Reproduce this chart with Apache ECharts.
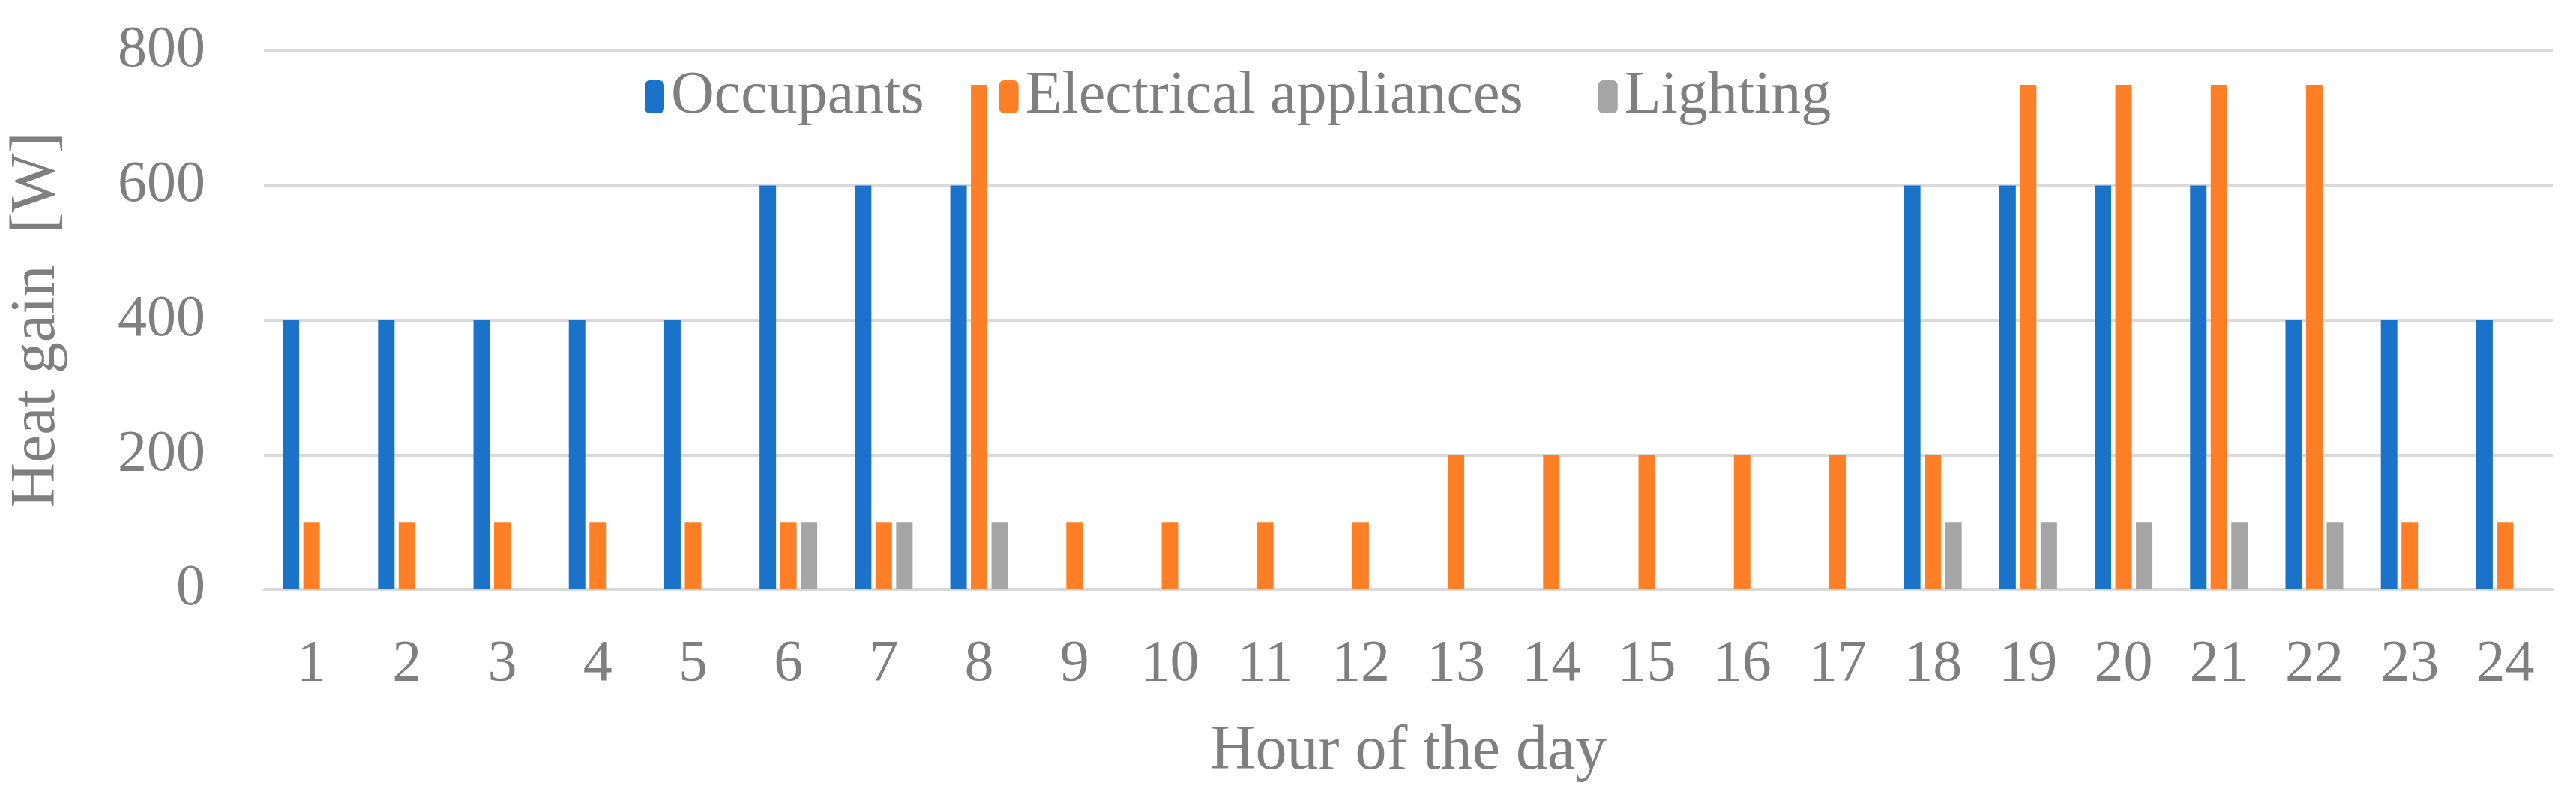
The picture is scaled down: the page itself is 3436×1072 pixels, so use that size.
<!DOCTYPE html>
<html>
<head>
<meta charset="utf-8">
<script src="https://cdn.jsdelivr.net/npm/echarts@6/dist/echarts.min.js"></script>
<style>html,body{margin:0;background:#fff}#main{width:3436px;height:1072px}</style>
</head>
<body>
<div id="main"></div>
<script>
var hours = ['1','2','3','4','5','6','7','8','9','10','11','12','13','14','15','16','17','18','19','20','21','22','23','24'];
var occupants = [400,400,400,400,400,600,600,600,0,0,0,0,0,0,0,0,0,600,600,600,600,400,400,400];
var appliances = [100,100,100,100,100,100,100,750,100,100,100,100,200,200,200,200,200,200,750,750,750,750,100,100];
var lighting = [0,0,0,0,0,100,100,100,0,0,0,0,0,0,0,0,0,100,100,100,100,100,0,0];

var font = 'Liberation Serif';
var grey = '#7f7f7f';
var myChart = echarts.init(document.getElementById('main'));

function bar(name, data, color) {
  return { name: name, type: 'bar', data: data, barWidth: 22, barGap: '25%',
    itemStyle: { color: color } };
}

myChart.setOption({
  animation: false,
  textStyle: { fontFamily: font },
  legend: {
    left: 855, top: 84, itemWidth: 26, itemHeight: 44, itemGap: 100,
    textStyle: { fontFamily: font, fontSize: 80, color: grey, padding: [0, 0, 0, 4] },
    data: ['Occupants', 'Electrical appliances', 'Lighting']
  },
  grid: { left: 331, right: 31, top: 68, bottom: 286 },
  xAxis: {
    type: 'category', data: hours,
    name: 'Hour of the day', nameLocation: 'middle', nameGap: 175,
    nameTextStyle: { fontFamily: font, fontSize: 84, color: grey },
    axisTick: { show: false },
    axisLine: { lineStyle: { color: '#d9d9d9', width: 3 } },
    axisLabel: { fontFamily: font, fontSize: 78, color: grey, margin: 62 }
  },
  yAxis: {
    type: 'value', min: 0, max: 800, interval: 200,
    name: 'Heat gain  [W]', nameLocation: 'middle', nameGap: 260,
    nameTextStyle: { fontFamily: font, fontSize: 84, color: grey },
    axisLabel: { fontFamily: font, fontSize: 78, color: grey, margin: 78 },
    splitLine: { lineStyle: { color: '#d9d9d9', width: 4 } }
  },
  series: [
    bar('Occupants', occupants, '#1a73c8'),
    bar('Electrical appliances', appliances, '#ff7f27'),
    bar('Lighting', lighting, '#a5a5a5')
  ]
});
</script>
</body>
</html>
